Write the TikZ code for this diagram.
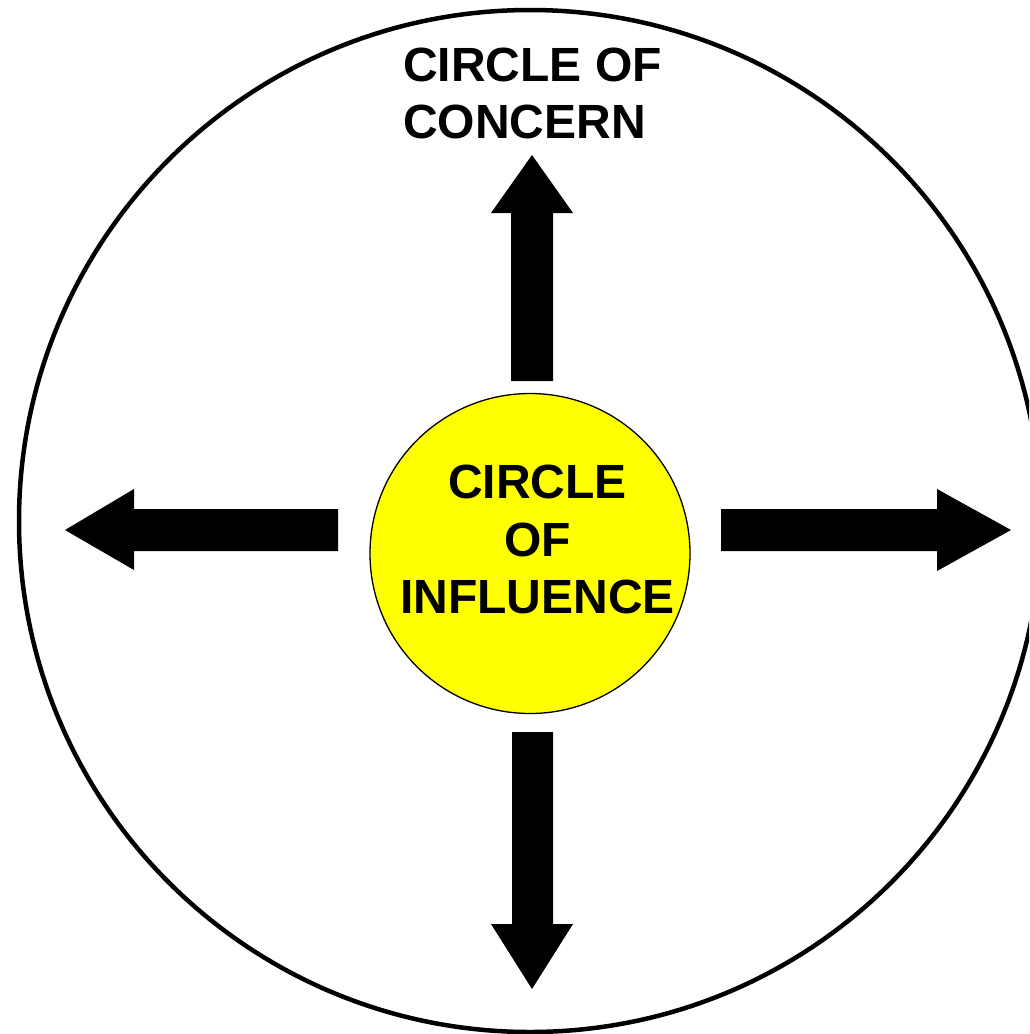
\documentclass[tikz,border=0pt]{standalone}
\usepackage{fontspec}
\setmainfont{Liberation Sans}
\definecolor{discyellow}{RGB}{255,255,0}
\begin{document}
\begin{tikzpicture}[x=1pt,y=-1pt,
  lbl/.style={font=\fontsize{48}{57}\selectfont\bfseries, inner sep=0pt, text=black},
  blockarrow/.style={fill=black, draw=none},
  outerring/.style={circle, draw=black, line width=4.5pt, minimum size=1022pt, inner sep=0pt},
  innerdisc/.style={circle, draw=black, fill=discyellow, line width=1.3pt, minimum size=320pt, inner sep=0pt}]
\useasboundingbox (0,0) rectangle (1029,1034);
\clip (0,0) rectangle (1029,1034);
\fill[white] (0,0) rectangle (1029,1034);
\node[outerring] (concern) at (530,521) {};
\node[innerdisc] (influence) at (530,553.5) {};
% labels
\node[lbl, anchor=base west] (t1) at (403,81) {CIRCLE OF};
\node[lbl, anchor=base west] (t2) at (403,138) {CONCERN};
\node[lbl, anchor=base] (i1) at (537.5,498) {CIRCLE};
\node[lbl, anchor=base] (i2) at (537.5,556) {OF};
\node[lbl, anchor=base] (i3) at (537.5,613) {INFLUENCE};
% arrows
\path[blockarrow] (511,381) -- (511,213) -- (491,213) -- (532,155) -- (573,213) -- (553,213) -- (553,381) -- cycle;
\path[blockarrow] (512,732) -- (512,924) -- (491,924) -- (532,989) -- (573,924) -- (553,924) -- (553,732) -- cycle;
\path[blockarrow] (338,509) -- (134,509) -- (134,489) -- (65,530) -- (134,570) -- (134,551) -- (338,551) -- cycle;
\path[blockarrow] (721,509) -- (937,509) -- (937,489) -- (1011,530) -- (937,571) -- (937,551) -- (721,551) -- cycle;
\end{tikzpicture}
\end{document}
